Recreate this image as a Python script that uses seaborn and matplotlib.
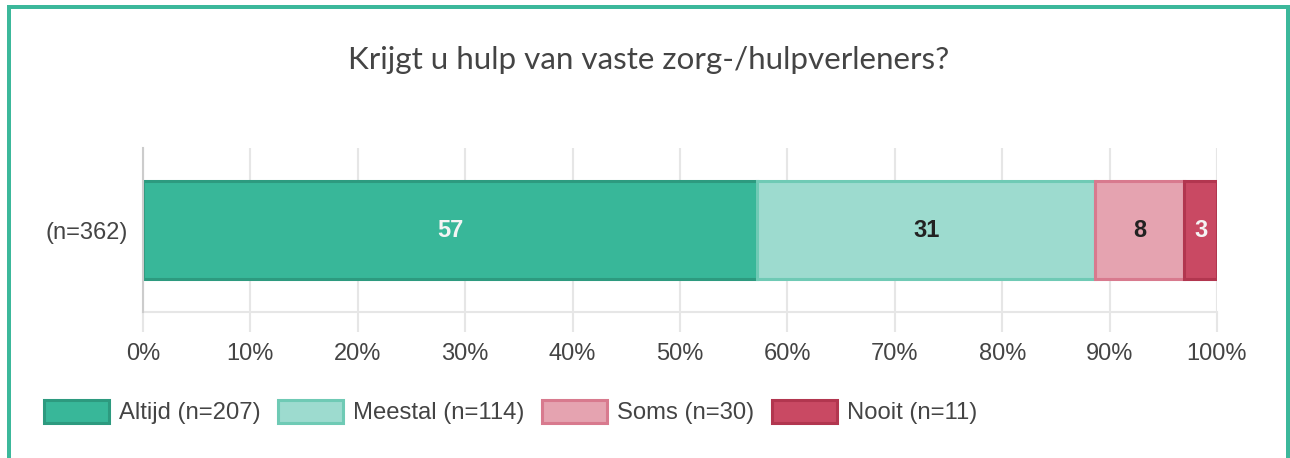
#!/usr/bin/env python3

import seaborn as sns
import matplotlib
matplotlib.use('Agg')
from matplotlib import pyplot as plt
from matplotlib.patches import Patch
from matplotlib.lines import Line2D

# data
title = 'Krijgt u hulp van vaste zorg-/hulpverleners?'
row_label = '(n=362)'
categories = ['Altijd', 'Meestal', 'Soms', 'Nooit']
counts = [207, 114, 30, 11]
fill_colors = ['#38b799', '#9ddbcf', '#e5a3b0', '#c94963']
edge_colors = ['#2d9a7f', '#6fcab5', '#d87a8e', '#b2364f']
label_colors = ['#f4f4f4', '#222222', '#222222', '#f4f4f4']
xticks = [0, 10, 20, 30, 40, 50, 60, 70, 80, 90, 100]

W, H = 1290, 458

sns.set_theme(style='white')
plt.rcParams['font.family'] = ['Liberation Sans', 'DejaVu Sans']

fig = plt.figure(figsize=(W / 100, H / 100), dpi=100)
ax = fig.add_axes([143 / W, 1 - 312 / H, (1217 - 143) / W, (312 - 148) / H])

total = sum(counts)
pcts = [c / total * 100 for c in counts]
left = 0
for cat, pct, fc, ec, lc in zip(categories, pcts, fill_colors, edge_colors, label_colors):
    sns.barplot(x=[pct], y=[row_label], orient='h', left=left, width=0.6,
                color=fc, edgecolor=ec, linewidth=2.2, saturation=1,
                errorbar=None, ax=ax, zorder=3)
    ax.text(left + pct / 2, 0, f'{round(pct)}', ha='center', va='center',
            fontsize=17, fontweight='bold', color=lc, zorder=4)
    left += pct

ax.set_xlim(0, 100)
ax.set_ylim(0.5, -0.5)
ax.set_xticks(xticks)
ax.set_xticklabels([f'{t}%' for t in xticks])
ax.set_xlabel('')
ax.set_ylabel('')
ax.grid(axis='x', color='#e6e6e6', linewidth=1.5, zorder=0)
ax.tick_params(axis='x', length=14.4, width=1.5, color='#e6e6e6', pad=8,
               labelsize=17, labelcolor='#444444', bottom=True)
ax.tick_params(axis='y', length=0, pad=11, labelsize=17, labelcolor='#444444')
for side in ['top', 'right']:
    ax.spines[side].set_visible(False)
ax.spines['bottom'].set_color('#e6e6e6')
ax.spines['bottom'].set_linewidth(1.5)
ax.spines['left'].set_color('#cccccc')
ax.spines['left'].set_linewidth(1.5)
ax.spines['left'].set_zorder(5)

# title
fig.text(649 / W, 1 - 60 / H, title, ha='center', va='center',
         fontsize=22.6, family=['Lato', 'DejaVu Sans'], color='#444444')

# legend
handles = [Patch(facecolor=fc, edgecolor=ec, linewidth=2.2)
           for fc, ec in zip(fill_colors, edge_colors)]
labels = [f'{cat} (n={c})' for cat, c in zip(categories, counts)]
fig.legend(handles, labels, loc='center left', bbox_to_anchor=(44 / W, 1 - 412 / H),
           ncol=4, frameon=False, fontsize=17.2, labelcolor='#444444',
           handlelength=2.7, handleheight=1.15, handletextpad=0.42,
           columnspacing=0.76, borderpad=0, borderaxespad=0)

# teal frame around the card
frame = '#3cb89b'
lw = 4 * 0.72
fig.add_artist(Line2D([9 / W, 9 / W], [0, 1 - 7 / H], color=frame, lw=lw,
                      transform=fig.transFigure, solid_capstyle='butt'))
fig.add_artist(Line2D([7 / W, 1290 / W], [1 - 7 / H, 1 - 7 / H], color=frame, lw=lw,
                      transform=fig.transFigure, solid_capstyle='butt'))
fig.add_artist(Line2D([1288 / W, 1288 / W], [0, 1 - 5 / H], color=frame, lw=lw,
                      transform=fig.transFigure, solid_capstyle='butt'))

fig.savefig('out.png', dpi=100, facecolor='white')
